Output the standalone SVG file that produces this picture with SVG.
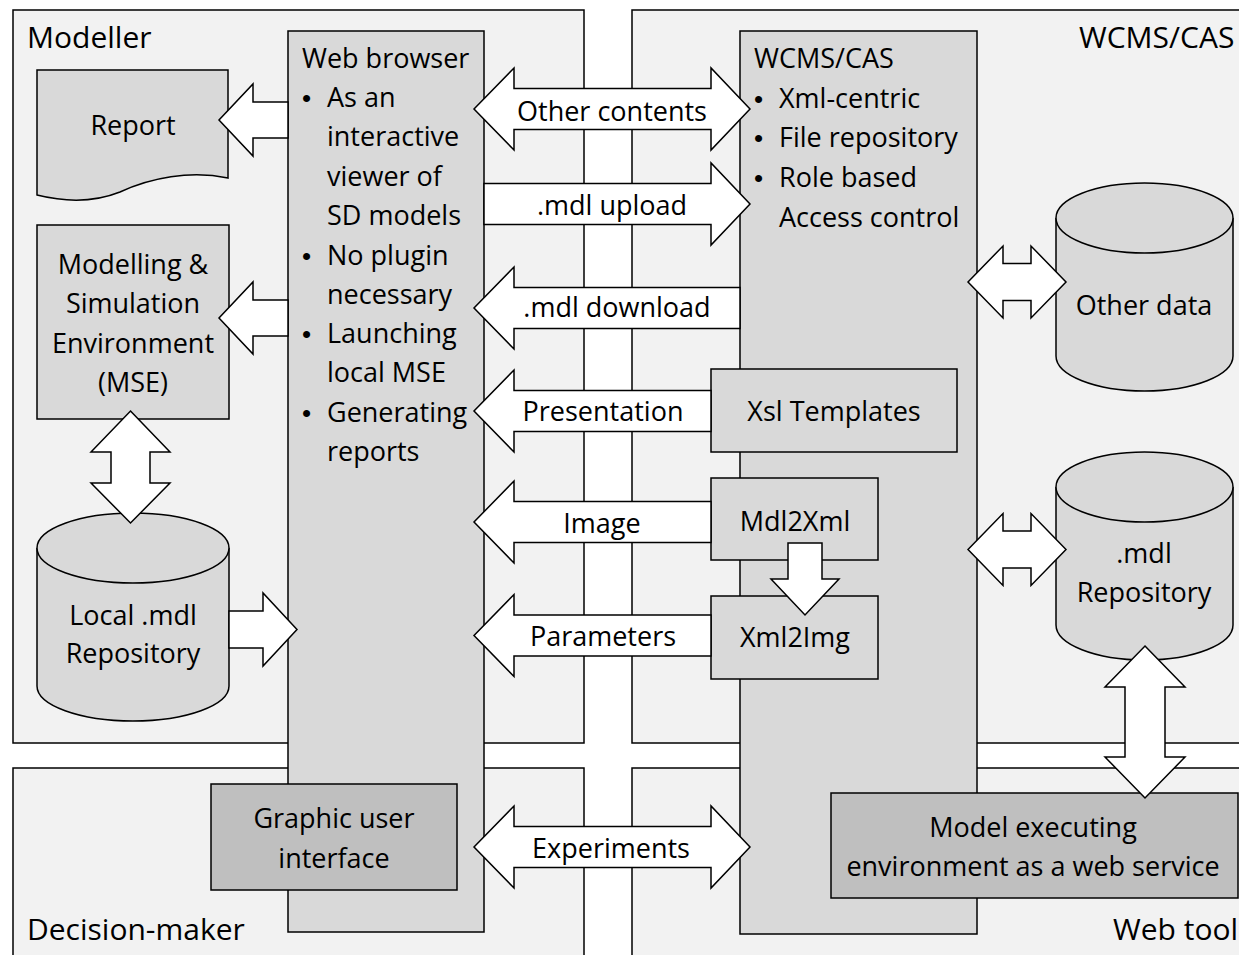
<svg xmlns="http://www.w3.org/2000/svg" width="1239" height="955" viewBox="0 0 1239 955">
<defs>
<style>
.panel{fill:#f2f2f2;stroke:#000;stroke-width:1.5}
.box{fill:#d9d9d9;stroke:#000;stroke-width:1.5}
.dark{fill:#bfbfbf;stroke:#000;stroke-width:1.5}
.arr{fill:#fff;stroke:#000;stroke-width:1.5;stroke-linejoin:miter}
text{font-family:"Open Sans","Liberation Sans",sans-serif;font-size:27px;fill:#000}
.lbl{font-size:30px}
.b{font-family:"Liberation Sans",Arial,sans-serif;font-size:26px}
.c{text-anchor:middle}
</style>
</defs>
<rect width="1239" height="955" fill="#fff"/>
<g id="panel-modeller"><rect class="panel" x="13" y="10" width="571" height="733"/><text class="lbl" x="27" y="48">Modeller</text></g>
<g id="panel-wcms"><rect class="panel" x="632" y="10" width="620" height="733"/><text class="lbl" x="1079" y="48">WCMS/CAS</text></g>
<g id="panel-decision"><rect class="panel" x="13" y="768" width="571" height="200"/><text class="lbl" x="27" y="940">Decision-maker</text></g>
<g id="panel-webtool"><rect class="panel" x="632" y="768" width="620" height="200"/><text class="lbl" x="1113" y="940">Web tool</text></g>

<g id="web-browser"><rect class="box" x="288" y="31" width="196" height="901"/>
<text x="302" y="68">Web browser</text>
<text class="b" x="302" y="107">•</text><text x="327" y="107">As an</text>
<text x="327" y="146">interactive</text>
<text x="327" y="186">viewer of</text>
<text x="327" y="225">SD models</text>
<text class="b" x="302" y="265">•</text><text x="327" y="265">No plugin</text>
<text x="327" y="304">necessary</text>
<text class="b" x="302" y="343">•</text><text x="327" y="343">Launching</text>
<text x="327" y="382">local MSE</text>
<text class="b" x="302" y="422">•</text><text x="327" y="422">Generating</text>
<text x="327" y="461">reports</text>
</g>
<g id="wcms-cas"><rect class="box" x="740" y="31" width="237" height="903"/>
<text x="754" y="68">WCMS/CAS</text>
<text class="b" x="754" y="108">•</text><text x="779" y="108">Xml-centric</text>
<text class="b" x="754" y="147">•</text><text x="779" y="147">File repository</text>
<text class="b" x="754" y="187">•</text><text x="779" y="187">Role based</text>
<text x="779" y="227">Access control</text>
</g>
<g id="report"><path class="box" d="M37,70 H228 V178 C190,170 150,178 120,192 C95,202 65,202 37,195 Z"/><text class="c" x="133" y="135">Report</text></g>
<g id="mse"><rect class="box" x="37" y="225" width="192" height="194"/>
<text class="c" x="133" y="274">Modelling &amp;</text>
<text class="c" x="133" y="313">Simulation</text>
<text class="c" x="133" y="353">Environment</text>
<text class="c" x="133" y="392">(MSE)</text></g>
<g id="local-repo"><path class="box" d="M37,548 V686 A96,35 0 0 0 229,686 V548"/><ellipse class="box" cx="133" cy="548" rx="96" ry="35"/>
<text class="c" x="133" y="625">Local .mdl</text><text class="c" x="133" y="663">Repository</text></g>
<g id="gui"><rect class="dark" x="211" y="784" width="246" height="106"/>
<text class="c" x="334" y="828">Graphic user</text><text class="c" x="334" y="868">interface</text></g>
<g id="xsl"><rect class="box" x="711" y="369" width="246" height="83"/><text class="c" x="834" y="421">Xsl Templates</text></g>
<g id="mdl2xml"><rect class="box" x="711" y="478" width="167" height="82"/><text class="c" x="795" y="531">Mdl2Xml</text></g>
<g id="xml2img"><rect class="box" x="711" y="596" width="167" height="83"/><text class="c" x="795" y="647">Xml2Img</text></g>
<g id="other-data"><path class="box" d="M1056,218 V356 A88.5,35 0 0 0 1233,356 V218"/><ellipse class="box" cx="1144.5" cy="218" rx="88.5" ry="35"/>
<text class="c" x="1144" y="315">Other data</text></g>
<g id="mdl-repo"><path class="box" d="M1056,487 V625 A88.5,35 0 0 0 1233,625 V487"/><ellipse class="box" cx="1144.5" cy="487" rx="88.5" ry="35"/>
<text class="c" x="1144" y="563">.mdl</text><text class="c" x="1144" y="602">Repository</text></g>
<g id="model-exec"><rect class="dark" x="831" y="793" width="407" height="105"/>
<text class="c" x="1033" y="837">Model executing</text><text class="c" x="1033" y="876">environment as a web service</text></g>

<g id="connectors">
<path class="arr" d="M288,102 H253 V84 L219,120 L253,156 V138 H288 Z"/>
<path class="arr" d="M288,300 H253 V282 L219,318 L253,354 V336 H288 Z"/>
<path class="arr" d="M130.5,411 L170,452 H150 V483 H170 L130.5,523 L91,483 H111 V452 H91 Z"/>
<path class="arr" d="M229,611 H263 V593 L297,629.5 L263,666 V648 H229 Z"/>
<path class="arr" d="M474,109 L514,68 V88.5 H711 V68 L750,109 L711,150 V129.5 H514 V150 Z"/>
<path class="arr" d="M484,183.5 H711 V163 L750,204 L711,245 V224.5 H484 Z"/>
<path class="arr" d="M740,287.5 H514 V267 L474,308 L514,349 V328.5 H740 Z"/>
<path class="arr" d="M711,390.5 H514 V370 L474,411 L514,452 V431.5 H711 Z"/>
<path class="arr" d="M711,501.5 H514 V481 L474,522 L514,563 V542.5 H711 Z"/>
<path class="arr" d="M711,615 H514 V594.5 L474,635.5 L514,676.5 V656 H711 Z"/>
<path class="arr" d="M474,847 L514,806 V826.5 H711 V806 L750,847 L711,888 V867.5 H514 V888 Z"/>
<path class="arr" d="M968,282 L1003,246 V263.5 H1031 V246 L1066,282 L1031,318 V300.5 H1003 V318 Z"/>
<path class="arr" d="M968,549.5 L1003,513.5 V531 H1031 V513.5 L1066,549.5 L1031,585.5 V568 H1003 V585.5 Z"/>
<path class="arr" d="M1145,646 L1185,687 H1165 V757 H1185 L1145,798 L1105,757 H1125 V687 H1105 Z"/>
<path class="arr" d="M788,543 H822 V579 H839 L805,615 L771,579 H788 Z"/>
<text class="c" x="612" y="121">Other contents</text>
<text class="c" x="612" y="215">.mdl upload</text>
<text class="c" x="617" y="317">.mdl download</text>
<text class="c" x="603" y="421">Presentation</text>
<text class="c" x="602" y="533">Image</text>
<text class="c" x="603" y="646">Parameters</text>
<text class="c" x="611" y="858">Experiments</text>
</g>
</svg>
